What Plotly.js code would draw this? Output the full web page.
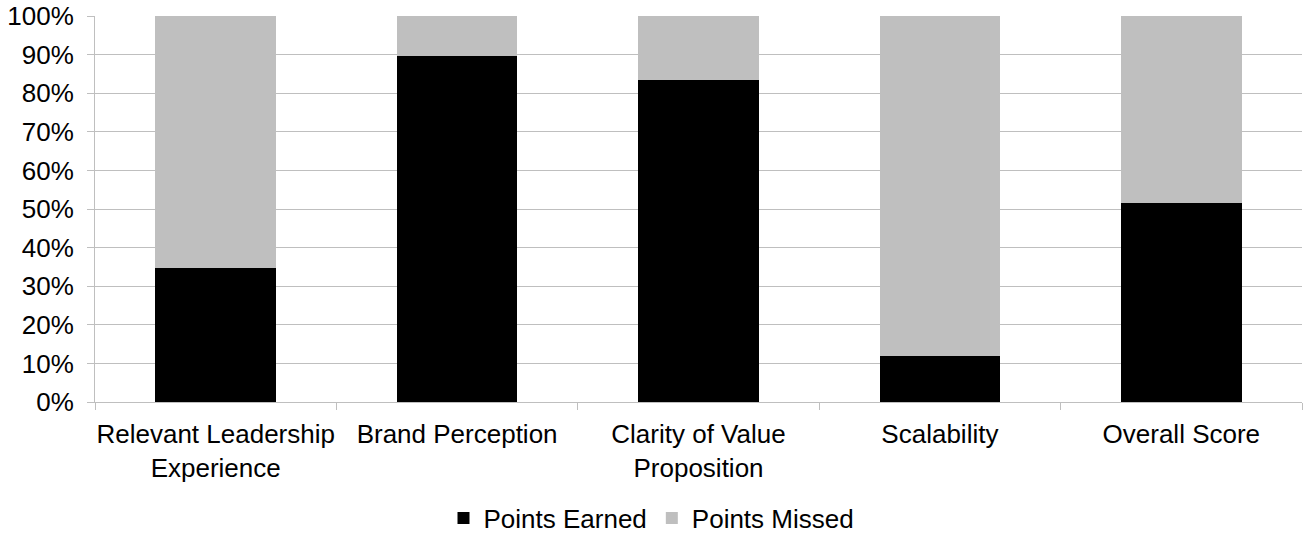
<!DOCTYPE html>
<html>
<head>
<meta charset="utf-8">
<script src="https://cdn.plot.ly/plotly-3.0.1.min.js"></script>
<style>html,body{margin:0;padding:0;background:#fff;}#chart{width:1303px;height:533px;}</style>
</head>
<body>
<div id="chart"></div>
<script>
const categories = ["Relevant Leadership<br>Experience", "Brand Perception", "Clarity of Value<br>Proposition", "Scalability", "Overall Score"];
const pointsEarned = [34.6, 89.6, 83.3, 12.0, 51.5];
const pointsMissed = pointsEarned.map(v => 100 - v);
const yTicks = [0,10,20,30,40,50,60,70,80,90,100];
const yTickLabels = yTicks.map(v => v + "%");

const traces = [
  {type: "bar", name: "Points Earned", x: categories, y: pointsEarned, marker: {color: "#000000"}},
  {type: "bar", name: "Points Missed", x: categories, y: pointsMissed, marker: {color: "#bfbfbf"}}
];
const layout = {
  width: 1303, height: 533,
  barmode: "stack", bargap: 0.5,
  margin: {l: 95, r: 1, t: 16, b: 131},
  paper_bgcolor: "#fff", plot_bgcolor: "#fff",
  font: {family: "Liberation Sans, Arial, sans-serif", size: 26, color: "#000"},
  showlegend: true,
  legend: {orientation: "h", x: 0.5, xanchor: "center", xref: "container", yref: "container", y: 0.028, yanchor: "middle", font: {size: 26}, itemwidth: 30, traceorder: "normal"},
  xaxis: {
    tickson: "boundaries", ticks: "outside", ticklen: 7, tickcolor: "#bfbfbf",
    showline: true, linecolor: "#bfbfbf", linewidth: 1, showgrid: false,
    tickfont: {size: 26}, tickangle: 0, automargin: false, ticklabelstandoff: 9
  },
  yaxis: {
    range: [0, 100], tickvals: yTicks, ticktext: yTickLabels,
    ticks: "outside", ticklen: 7, tickcolor: "#bfbfbf",
    showline: true, linecolor: "#bfbfbf", linewidth: 1,
    gridcolor: "#bfbfbf", gridwidth: 1, zeroline: false,
    tickfont: {size: 26}, automargin: false, ticklabelstandoff: 8
  }
};
Plotly.newPlot("chart", traces, layout, {displayModeBar: false, staticPlot: true});
</script>
</body>
</html>
